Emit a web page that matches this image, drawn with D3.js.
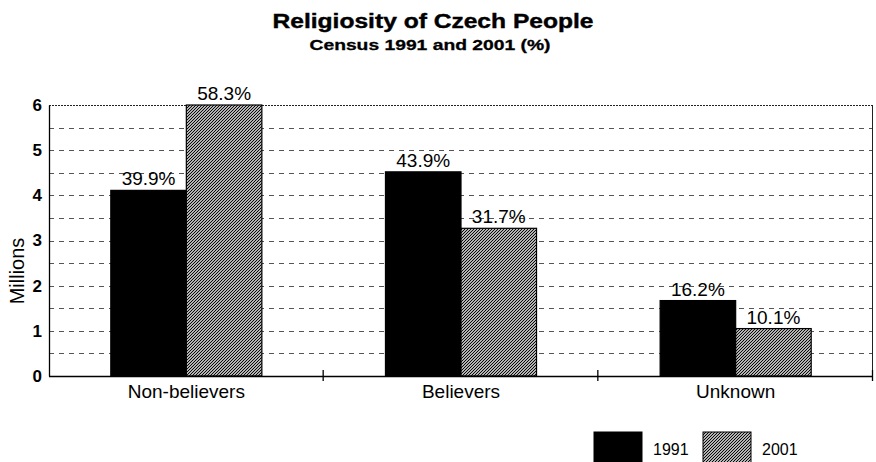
<!DOCTYPE html>
<html>
<head>
<meta charset="utf-8">
<script src="https://cdn.jsdelivr.net/npm/d3@7"></script>
<style>
  html, body { margin: 0; padding: 0; background: #fff; }
  svg { display: block; font-family: Arial, "Liberation Sans", Helvetica, sans-serif; }
</style>
</head>
<body>
<svg id="chart" width="876" height="462"></svg>
<script>
// Census results, millions of people
const categories = ["Non-believers", "Believers", "Unknown"];
const years = ["1991", "2001"];
const values1991 = [4.11, 4.52, 1.67];
const values2001 = [6.04, 3.27, 1.05];
const shares1991 = ["39.9%", "43.9%", "16.2%"];
const shares2001 = ["58.3%", "31.7%", "10.1%"];
const yTicks = [0, 1, 2, 3, 4, 5, 6];
const gridSteps = [0.5, 1, 1.5, 2, 2.5, 3, 3.5, 4, 4.5, 5, 5.5];

const svg = d3.select("#chart");
const W = 876, H = 462;
const margin = { top: 105, right: 3, bottom: 86, left: 49 };
const iw = W - margin.left - margin.right;
const ih = H - margin.top - margin.bottom;

// Fine diagonal hatch for the 2001 series
const defs = svg.append("defs");
const pat = defs.append("pattern")
  .attr("id", "hatch")
  .attr("patternUnits", "userSpaceOnUse")
  .attr("width", 3).attr("height", 3);
pat.append("rect").attr("width", 3).attr("height", 3).attr("fill", "#fff");
pat.append("path").attr("d", "M0,3L3,0M-1,1L1,-1M2,4L4,2")
  .attr("stroke", "#000").attr("stroke-width", 1.15);

// Title (wide heavy face)
svg.append("text").attr("x", 433).attr("y", 28).attr("text-anchor", "middle")
  .attr("font-size", 20).attr("font-weight", "bold")
  .attr("stroke", "#000").attr("stroke-width", 0.4)
  .attr("textLength", 321).attr("lengthAdjust", "spacingAndGlyphs")
  .text("Religiosity of Czech People");
svg.append("text").attr("x", 430).attr("y", 50).attr("text-anchor", "middle")
  .attr("font-size", 15).attr("font-weight", "bold")
  .attr("stroke", "#000").attr("stroke-width", 0.3)
  .attr("textLength", 241).attr("lengthAdjust", "spacingAndGlyphs")
  .text("Census 1991 and 2001 (%)");

const g = svg.append("g").attr("transform", `translate(${margin.left},${margin.top})`);

const x0 = d3.scaleBand().domain(categories).range([0, iw]).paddingInner(0).paddingOuter(0);
const x1 = d3.scaleBand().domain(years).range([0, x0.bandwidth() * 0.55]).padding(0);
const groupOffset = x0.bandwidth() * 0.225;
const y = d3.scaleLinear().domain([0, 6]).range([ih, 0]).clamp(true);

// Dashed gridlines
g.append("g").selectAll("line").data(gridSteps).join("line")
  .attr("x1", 0).attr("x2", iw)
  .attr("y1", d => Math.round(y(d)) + 0.5).attr("y2", d => Math.round(y(d)) + 0.5)
  .attr("stroke", "#555").attr("stroke-width", 1).attr("stroke-dasharray", "5,5");

// Top border (dotted) and right border
g.append("line").attr("x1", 0).attr("x2", iw).attr("y1", 0.5).attr("y2", 0.5)
  .attr("stroke", "#222").attr("stroke-width", 1).attr("stroke-dasharray", "2,1");
g.append("line").attr("x1", iw - 0.5).attr("x2", iw - 0.5).attr("y1", 0).attr("y2", ih)
  .attr("stroke", "#222").attr("stroke-width", 1);

// Bars
const series = [
  { year: "1991", vals: values1991, labels: shares1991, fill: "#000" },
  { year: "2001", vals: values2001, labels: shares2001, fill: "url(#hatch)" }
];
series.forEach(s => {
  const sg = g.append("g");
  sg.selectAll("rect").data(categories).join("rect")
    .attr("x", (c) => x0(c) + groupOffset + x1(s.year))
    .attr("y", (c, i) => y(s.vals[i]))
    .attr("width", x1.bandwidth())
    .attr("height", (c, i) => ih - y(s.vals[i]))
    .attr("fill", s.fill)
    .attr("stroke", "#000").attr("stroke-width", 1.2);
  sg.selectAll("text").data(categories).join("text")
    .attr("x", c => x0(c) + groupOffset + x1(s.year) + x1.bandwidth() / 2)
    .attr("y", (c, i) => y(s.vals[i]) - 5)
    .attr("text-anchor", "middle").attr("font-size", 19)
    .text((c, i) => s.labels[i]);
});

// Y axis
const yAxis = d3.axisLeft(y).tickValues(yTicks).tickSize(0).tickPadding(7).tickFormat(d3.format("d"));
const ya = g.append("g").call(yAxis);
ya.select(".domain").attr("stroke", "#000").attr("stroke-width", 1.3);
ya.selectAll(".tick text").attr("font-size", 17).attr("font-weight", "bold").attr("fill", "#000")
  .attr("font-family", "Arial, 'Liberation Sans', sans-serif");

// X axis with category divider ticks
const xa = g.append("g").attr("transform", `translate(0,${ih})`);
xa.append("line").attr("x1", 0).attr("x2", iw).attr("y1", 0.5).attr("y2", 0.5)
  .attr("stroke", "#000").attr("stroke-width", 1.3);
const dividers = categories.slice(1).map(c => x0(c)).concat([iw]);
xa.selectAll("line.div").data(dividers).join("line").attr("class", "div")
  .attr("x1", d => d - 0.5).attr("x2", d => d - 0.5).attr("y1", -6).attr("y2", 5)
  .attr("stroke", "#000").attr("stroke-width", 1.3);
xa.selectAll("text").data(categories).join("text")
  .attr("x", c => x0(c) + x0.bandwidth() / 2)
  .attr("y", 22).attr("text-anchor", "middle").attr("font-size", 19)
  .text(c => c);

// Y axis title
svg.append("text").attr("transform", "translate(24,271) rotate(-90)")
  .attr("text-anchor", "middle").attr("font-size", 20).text("Millions");

// Legend
const legend = svg.append("g").attr("transform", "translate(594,432)");
series.forEach((s, i) => {
  const lg = legend.append("g").attr("transform", `translate(${i * 109},0)`);
  lg.append("rect").attr("width", 48).attr("height", 31).attr("fill", s.fill)
    .attr("stroke", "#000").attr("stroke-width", 1);
  lg.append("text").attr("x", 59).attr("y", 23).attr("font-size", 16).text(s.year);
});
</script>
</body>
</html>
